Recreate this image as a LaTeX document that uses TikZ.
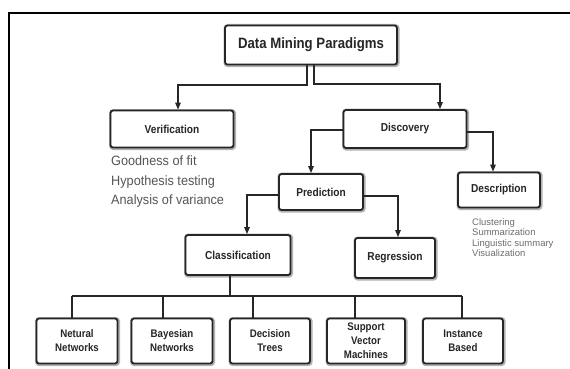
\documentclass[tikz,border=0pt]{standalone}
\usepackage{fontspec}
\setmainfont{Liberation Sans}
\newfontfamily\condfont[FakeStretch=0.88]{Liberation Sans}
\newfontfamily\narrowfont[FakeStretch=0.94]{Liberation Sans}
\usetikzlibrary{arrows.meta}
\definecolor{boxline}{HTML}{262626}
\definecolor{txtgray}{HTML}{555555}
\begin{document}
\begin{tikzpicture}[x=1pt,y=-1pt,
 box/.style={draw=boxline, line width=1.8pt, rounded corners=2.5pt, fill=white, inner sep=0pt, align=center, text=black!85,
   preaction={draw=black!30, line width=4.2pt, transform canvas={xshift=0.6pt,yshift=-0.6pt}}},
 lab/.style={font=\condfont\bfseries\fontsize{11.5}{13}\selectfont},
 small/.style={font=\condfont\bfseries\fontsize{11}{14}\selectfont},
 conn/.style={draw=boxline, line width=1.3pt},
 arr/.style={conn, -{Triangle[length=7pt,width=5.5pt]}},
]
\useasboundingbox (0,0) rectangle (570,369);
\fill[white] (0,0) rectangle (570,369);
\draw[line width=2pt] (9,369) -- (9,13) -- (570,13);

\node[box, minimum width=172pt, minimum height=39pt, font=\condfont\bfseries\fontsize{15}{16}\selectfont] (dmp) at (311,45) {Data Mining Paradigms};
\node[box, lab, minimum width=123pt, minimum height=37pt] (ver) at (172,129) {Verification};
\node[box, lab, minimum width=123pt, minimum height=38pt] (dis) at (405,129) {Discovery};
\node[box, lab, minimum width=84pt, minimum height=36pt] (pre) at (321,192) {Prediction};
\node[box, lab, minimum width=82pt, minimum height=35pt] (des) at (499,190) {Description};
\node[box, lab, minimum width=105pt, minimum height=40pt] (cla) at (238,255) {Classification};
\node[box, lab, minimum width=80pt, minimum height=40pt] (reg) at (395,258) {Regression};

\node[box, small, minimum width=81pt, minimum height=45pt] (nn) at (77,341) {Netural\\Networks};
\node[box, small, minimum width=81pt, minimum height=45pt] (bn) at (172,341) {Bayesian\\Networks};
\node[box, small, minimum width=80pt, minimum height=45pt] (dt) at (270,341) {Decision\\Trees};
\node[box, small, minimum width=78pt, minimum height=45pt] (svm) at (366,341) {Support\\Vector\\Machines};
\node[box, small, minimum width=80pt, minimum height=45pt] (ib) at (463,341) {Instance\\Based};

\coordinate (t1) at (307,85);
\coordinate (t2) at (314,84);
\coordinate (vL) at (178,85);
\coordinate (vR) at (440,84);
\draw[arr] (t1 |- dmp.south) -- (t1) -- (vL) -- (vL |- ver.north);
\draw[arr] (t2 |- dmp.south) -- (t2) -- (vR) -- (vR |- dis.north);

\coordinate (dL) at (311,130);
\coordinate (dR) at (493,132);
\draw[arr] (dis.west |- dL) -- (dL) -- (dL |- pre.north);
\draw[arr] (dis.east |- dR) -- (dR) -- (dR |- des.north);

\coordinate (pL) at (247,195);
\coordinate (pR) at (398,196);
\draw[arr] (pre.west |- pL) -- (pL) -- (pL |- cla.north);
\draw[arr] (pre.east |- pR) -- (pR) -- (pR |- reg.north);

\coordinate (cb) at (230,296);
\coordinate (b1) at (72,296);
\coordinate (b2) at (163,296);
\coordinate (b3) at (253,296);
\coordinate (b4) at (355,296);
\coordinate (b5) at (462,296);
\draw[conn] (cb |- cla.south) -- (cb);
\draw[conn] (b1) -- (b5);
\draw[conn] (b1) -- (b1 |- nn.north);
\draw[conn] (b2) -- (b2 |- bn.north);
\draw[conn] (b3) -- (b3 |- dt.north);
\draw[conn] (b4) -- (b4 |- svm.north);
\draw[conn] (b5) -- (b5 |- ib.north);

\node[anchor=north west, inner sep=0pt, align=left, text=txtgray, font=\narrowfont\fontsize{13.5}{19.5}\selectfont] (vtext) at (111,156) {Goodness of fit\\Hypothesis testing\\Analysis of variance};
\node[anchor=north west, inner sep=0pt, align=left, text=txtgray!85, font=\fontsize{9.5}{10.6}\selectfont] (dtext) at (472,218) {Clustering\\Summarization\\Linguistic summary\\Visualization};
\end{tikzpicture}
\end{document}
